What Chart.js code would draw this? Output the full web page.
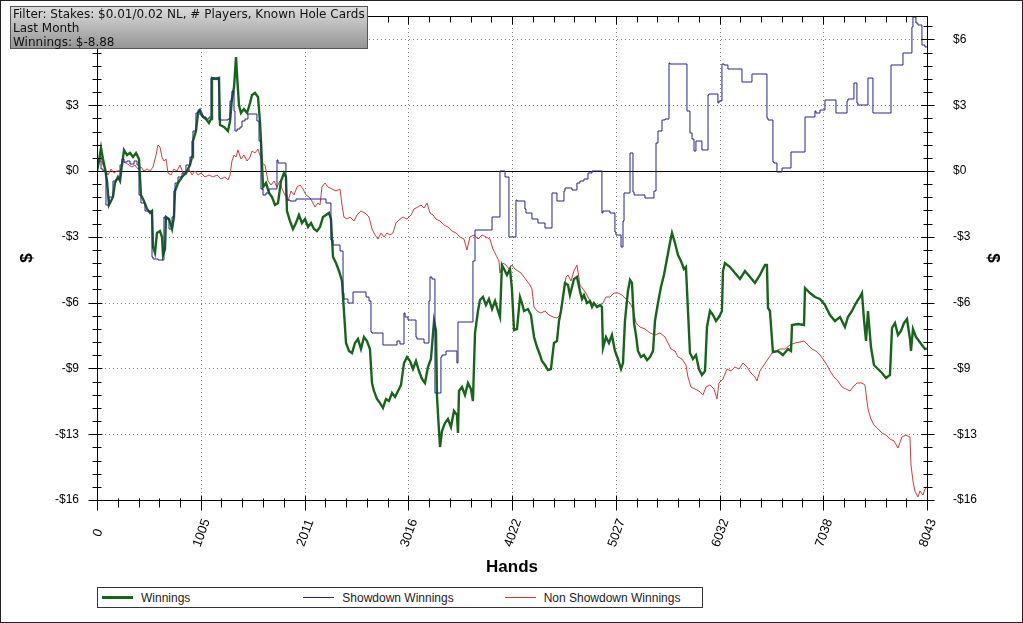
<!DOCTYPE html>
<html>
<head>
<meta charset="utf-8">
<script src="https://cdn.jsdelivr.net/npm/chart.js@4.4.1/dist/chart.umd.min.js"></script>
<style>
  html, body { margin: 0; padding: 0; background: #fff; }
  #wrap { position: relative; width: 1023px; height: 623px; overflow: hidden; }
  #wrap canvas { position: absolute; left: 0; top: 0; }
  #outline { position: absolute; left: 0; top: 0; width: 1023px; height: 623px; box-sizing: border-box; border: 1px solid #222; pointer-events: none; }
  #filter {
    position: absolute; left: 10px; top: 6px; width: 358px; height: 43px; box-sizing: border-box;
    border: 1px solid #555; background: linear-gradient(to bottom, #dcdcdc 0%, #b0b0b0 60%, #969696 100%);
    font: 12px "DejaVu Sans", Verdana, sans-serif; line-height: 14px; color: #111; padding: 0 0 0 2px; white-space: nowrap;
  }
  #legend {
    position: absolute; left: 97px; top: 587px; width: 606px; height: 21px; box-sizing: border-box;
    border: 1px solid #333; display: flex; align-items: center; background: #fff;
    font: 12px "Liberation Sans", Arial, sans-serif; color: #222;
  }
  #legend .item { width: 203px; display: flex; align-items: center; }
  #legend .sw { display: inline-block; width: 31px; margin: 0 8px 0 4px; }
</style>
</head>
<body>
<div id="wrap">
  <canvas id="chart" width="1023" height="623"></canvas>
  <div id="filter">Filter: Stakes: $0.01/0.02 NL, # Players, Known Hole Cards<br>Last Month<br>Winnings: $-8.88</div>
  <div id="legend"></div>
  <div id="outline"></div>
</div>
<script>
var seriesNames = ['Winnings', 'Showdown Winnings', 'Non Showdown Winnings'];

var xTickLabels = ['0', '1005', '2011', '3016', '4022', '5027', '6032', '7038', '8043'];
var yTickLabels = ['-$16', '-$13', '-$9', '-$6', '-$3', '$0', '$3', '$6'];
var handsMax = 8043;
var yMin = -16.45, yStep = 3.29, yMax = 7.75;

// Winnings (green)
var winHands = [
  0,19,39,58,78,97,116,136,155,174,
  203,223,242,262,291,320,349,378,407,426,
  455,485,514,533,543,562,581,610,630,640,
  659,669,698,727,746,756,785,824,862,901,
  921,930,959,979,998,1027,1056,1085,1105,1114,
  1153,1182,1192,1231,1269,1289,1308,1328,1347,1357,
  1376,1395,1424,1454,1483,1502,1531,1560,1579,1589,
  1609,1638,1667,1696,1725,1754,1783,1812,1831,1841,
  1870,1899,1928,1957,1986,2016,2045,2074,2103,2132,
  2161,2190,2219,2248,2267,2287,2316,2345,2374,2393,
  2413,2442,2471,2500,2529,2558,2587,2616,2645,2665,
  2684,2713,2742,2771,2800,2829,2859,2888,2917,2946,
  2975,3004,3033,3062,3091,3120,3149,3178,3207,3236,
  3266,3285,3295,3314,3324,3343,3372,3401,3430,3459,
  3488,3498,3508,3537,3566,3595,3624,3643,3663,3692,
  3711,3740,3769,3798,3828,3857,3886,3905,3924,3944,
  3973,4002,4021,4041,4070,4099,4118,4138,4176,4205,
  4235,4264,4293,4312,4341,4370,4399,4428,4457,4477,
  4496,4535,4564,4583,4603,4622,4651,4680,4700,4719,
  4748,4777,4797,4816,4845,4874,4893,4903,4932,4961,
  4990,5019,5048,5078,5097,5116,5145,5165,5184,5204,
  5223,5242,5271,5300,5330,5359,5388,5407,5436,5465,
  5494,5523,5552,5572,5601,5630,5659,5688,5707,5727,
  5746,5775,5804,5833,5862,5892,5911,5940,5969,5998,
  6027,6056,6066,6085,6134,6182,6231,6279,6328,6376,
  6424,6473,6492,6502,6521,6550,6599,6647,6696,6725,
  6735,6793,6851,6861,6909,6957,7006,7054,7103,7151,
  7200,7248,7277,7316,7355,7393,7413,7432,7452,7471,
  7500,7529,7568,7607,7646,7684,7704,7733,7762,7791,
  7820,7849,7878,7888,7907,7936,7965,7994,8023,8043
];
var winValues = [
  0,0.5,1.15,0.6,0.1,-0.5,-1.7,-1.5,-1.3,-0.6,
  -0.3,-0.5,0.3,1.05,0.8,0.9,0.7,0.9,0.6,-1.2,
  -1.5,-1.9,-2.1,-2.0,-3.8,-4.1,-3.1,-3.0,-3.3,-4.2,
  -3.9,-2.3,-2.4,-2.9,-2.3,-1.0,-0.6,-0.3,-0.1,0.3,
  0.7,1.5,2.0,2.9,3.05,2.7,2.6,2.4,2.6,4.65,
  4.6,4.65,2.3,2.2,2.0,2.5,3.6,4.2,5.7,4.8,
  3.3,2.9,3.1,2.9,3.4,3.8,3.9,3.7,2.5,1.5,
  -0.8,-0.6,-1.1,-1.3,-1.7,-1.6,-0.5,-0.1,-0.3,-2.0,
  -2.5,-2.9,-2.6,-2.2,-2.6,-2.4,-2.8,-2.6,-2.9,-3.0,
  -2.8,-2.3,-2.2,-2.1,-2.4,-4.3,-4.6,-5.0,-5.5,-7.0,
  -8.6,-9.0,-9.1,-8.6,-8.4,-8.9,-8.3,-8.5,-8.9,-10.6,
  -11.0,-11.4,-11.6,-11.85,-11.4,-11.5,-11.1,-11.3,-11.0,-10.7,
  -9.6,-9.3,-9.5,-9.9,-9.5,-10.0,-10.4,-10.6,-9.8,-9.4,
  -7.5,-8.0,-11.3,-13.0,-13.8,-13.0,-12.6,-12.4,-12.8,-12.0,
  -12.2,-13.1,-11.0,-10.8,-11.2,-10.6,-10.9,-11.5,-8.1,-7.0,
  -6.45,-6.3,-6.7,-6.4,-6.9,-6.5,-7.0,-7.3,-4.7,-4.9,
  -5.2,-4.9,-5.9,-7.95,-7.9,-6.3,-6.6,-7.0,-6.9,-7.2,
  -8.3,-8.8,-9.2,-9.5,-9.7,-9.95,-9.9,-8.6,-8.5,-7.5,
  -7.0,-5.6,-5.7,-6.2,-5.8,-5.4,-5.3,-6.0,-6.4,-6.2,
  -6.6,-6.5,-6.8,-6.6,-6.8,-6.7,-6.8,-8.85,-8.3,-8.6,
  -8.2,-9.0,-9.4,-9.9,-9.6,-7.5,-6.0,-5.45,-5.6,-7.6,
  -8.2,-9.0,-9.3,-9.2,-9.45,-9.3,-9.0,-7.5,-6.6,-5.8,
  -5.2,-4.4,-3.6,-3.1,-3.6,-4.2,-4.5,-4.9,-4.8,-7.0,
  -9.1,-9.4,-9.2,-9.9,-10.2,-10.0,-7.8,-7.0,-7.2,-7.5,
  -7.3,-7.0,-5.0,-4.6,-4.8,-5.1,-5.4,-5.0,-5.3,-5.6,
  -5.2,-4.7,-4.7,-6.85,-7.0,-9.05,-9.0,-9.2,-8.9,-9.0,
  -7.7,-7.65,-7.7,-5.85,-6.1,-6.3,-6.4,-6.7,-7.2,-7.5,
  -7.3,-7.8,-7.3,-7.0,-6.6,-6.3,-6.1,-7.4,-8.5,-7.0,
  -8.8,-9.7,-9.9,-10.1,-10.35,-10.2,-7.85,-7.6,-8.2,-8.0,
  -7.6,-7.4,-8.4,-9.0,-7.9,-8.3,-8.5,-8.7,-8.9,-8.88
];

// Showdown Winnings (blue)
var sdHands = [
  0,19,39,58,87,116,155,184,223,242,
  262,291,320,359,388,407,426,465,514,533,
  543,591,649,659,698,727,746,756,785,824,
  862,901,921,930,959,979,998,1027,1056,1085,
  1105,1114,1182,1192,1269,1289,1308,1328,1337,1357,
  1386,1405,1434,1463,1483,1550,1570,1589,1609,1638,
  1667,1696,1744,1754,1831,1841,1870,1928,2016,2141,
  2219,2267,2287,2355,2384,2393,2432,2481,2490,2607,
  2636,2655,2665,2771,2781,2907,2936,2975,2985,3014,
  3033,3091,3101,3169,3217,3227,3246,3275,3295,3333,
  3343,3382,3440,3488,3498,3508,3643,3663,3673,3828,
  3837,3905,3915,3954,3992,4002,4060,4070,4147,4157,
  4215,4273,4341,4409,4419,4457,4467,4525,4535,4603,
  4651,4680,4719,4758,4797,4835,4893,4903,4971,5019,
  5029,5078,5097,5107,5126,5165,5174,5194,5204,5310,
  5397,5417,5436,5475,5504,5543,5552,5717,5746,5766,
  5785,5804,5814,5862,5872,5921,5930,6017,6027,6056,
  6076,6114,6182,6250,6260,6347,6357,6492,6502,6550,
  6560,6589,6599,6638,6647,6725,6735,6861,6870,6957,
  6967,7006,7016,7054,7064,7161,7180,7268,7277,7335,
  7364,7374,7432,7471,7481,7519,7529,7694,7704,7810,
  7820,7897,7907,7936,7955,7994,8023,8043
];
var sdValues = [
  0,0.5,0.5,0.1,0.0,-1.7,-1.3,-0.5,-0.4,0.3,
  0.6,0.45,0.5,0.35,0.5,0.3,-1.2,-1.6,-2.0,-2.0,
  -4.3,-4.4,-4.45,-2.3,-2.4,-2.9,-2.3,-1.0,-0.6,-0.3,
  -0.1,0.3,0.7,1.5,2.0,2.9,3.05,2.8,2.7,2.6,
  2.7,4.65,4.65,2.55,2.55,2.6,3.5,4.0,3.0,2.0,
  2.1,2.2,2.5,2.6,2.85,2.85,2.5,1.5,-0.9,-1.2,
  -1.1,-0.9,-0.9,0.55,0.4,-1.2,-1.45,-1.5,-1.4,-1.4,
  -1.4,-1.6,-3.45,-3.7,-4.0,-6.1,-6.4,-6.6,-6.05,-6.05,
  -6.3,-6.5,-8.05,-8.1,-8.7,-8.7,-8.5,-8.65,-7.1,-7.3,
  -7.45,-7.45,-8.3,-8.4,-8.6,-6.5,-5.3,-5.4,-11.1,-11.1,
  -9.3,-9.2,-9.0,-9.0,-9.6,-7.55,-7.55,-4.5,-2.95,-2.95,
  -2.3,-2.3,0.0,0.0,-0.3,-3.3,-3.3,-1.45,-1.5,-1.9,
  -2.1,-2.4,-2.6,-2.85,-1.1,-1.1,-1.5,-1.5,-1.0,-0.85,
  -0.95,-0.6,-0.5,-0.4,-0.1,0.0,0.0,-2.1,-2.0,-2.1,
  -3.05,-3.2,-3.8,-2.5,-1.1,-1.1,0.9,0.9,-1.05,-1.2,
  -1.35,-1.0,1.4,2.0,2.55,2.6,5.4,5.35,3.0,1.9,
  1.6,1.0,1.5,1.5,1.05,1.05,3.8,3.85,3.4,3.5,
  5.35,5.3,5.1,5.1,4.45,4.45,4.85,4.85,2.65,2.55,
  0.45,0.4,-0.05,-0.05,0.15,0.15,0.95,0.95,2.7,2.7,
  3.0,2.9,3.05,3.05,3.55,3.55,2.9,2.9,3.5,3.6,
  4.4,3.4,3.3,3.3,4.65,4.65,2.9,2.9,5.3,5.3,
  5.9,5.9,7.2,7.7,7.4,7.3,6.3,6.2
];

// Non Showdown Winnings (red)
var nsdHands = [
  0,19,39,58,78,107,136,165,194,223,
  252,281,310,339,368,397,426,455,485,514,
  543,572,591,610,630,649,669,688,717,746,
  775,804,833,862,891,921,950,979,1008,1047,
  1085,1124,1163,1202,1240,1269,1289,1308,1328,1347,
  1366,1395,1424,1454,1483,1502,1531,1560,1579,1599,
  1628,1657,1686,1715,1744,1773,1793,1822,1851,1880,
  1909,1938,1967,1996,2025,2054,2083,2112,2141,2161,
  2180,2209,2238,2277,2316,2355,2374,2393,2423,2452,
  2490,2519,2558,2597,2636,2665,2694,2723,2752,2781,
  2810,2839,2868,2897,2926,2965,3004,3043,3072,3110,
  3140,3169,3198,3227,3256,3285,3324,3362,3401,3440,
  3479,3517,3556,3585,3614,3653,3692,3731,3769,3808,
  3837,3866,3895,3905,3934,3963,3992,4021,4050,4079,
  4109,4138,4167,4196,4215,4235,4264,4302,4341,4380,
  4419,4457,4486,4516,4545,4564,4593,4622,4651,4680,
  4709,4738,4767,4797,4835,4874,4903,4932,4971,5010,
  5048,5087,5126,5165,5194,5223,5262,5310,5359,5407,
  5455,5504,5533,5562,5601,5630,5669,5707,5727,5756,
  5795,5833,5872,5901,5940,5979,6008,6027,6066,6105,
  6143,6182,6221,6260,6299,6337,6376,6395,6424,6463,
  6502,6541,6580,6618,6667,6715,6764,6812,6851,6890,
  6928,6967,7006,7035,7074,7103,7142,7180,7219,7258,
  7297,7326,7364,7413,7442,7471,7500,7529,7568,7607,
  7646,7684,7723,7762,7800,7839,7878,7888,7907,7926,
  7955,7975,8004,8023,8043
];
var nsdValues = [
  0,0.4,0.7,0.3,0.1,-0.2,0.1,-0.1,0.0,0.0,
  0.45,0.4,0.3,0.2,0.3,0.1,0.2,0.0,0.1,0.0,
  0.2,0.8,1.3,1.2,0.7,0.5,0.6,-0.1,-0.2,0.1,
  0.0,0.3,-0.1,-0.2,0.1,-0.2,0.0,-0.2,-0.1,-0.3,
  -0.2,-0.3,-0.2,-0.4,-0.3,-0.45,-0.2,0.5,0.8,0.7,
  1.05,0.6,0.8,0.5,0.7,1.0,0.9,1.1,0.8,0.4,
  0.3,-0.5,-0.7,-0.5,-0.8,-0.5,-0.9,-1.2,-1.5,-1.0,
  -1.2,-0.8,-0.7,-0.9,-1.2,-1.3,-1.5,-1.8,-1.6,-1.7,
  -0.8,-0.6,-0.8,-0.9,-1.0,-0.9,-1.7,-2.3,-2.4,-2.3,
  -2.5,-2.2,-2.0,-2.1,-2.3,-2.9,-3.2,-3.4,-3.1,-3.3,
  -3.1,-3.2,-3.1,-2.6,-2.45,-2.3,-2.4,-2.2,-1.9,-1.8,
  -1.7,-1.85,-1.6,-2.1,-2.2,-2.4,-2.5,-2.7,-2.8,-3.0,
  -3.1,-3.3,-3.4,-3.95,-3.3,-3.2,-3.4,-3.2,-3.3,-3.4,
  -3.9,-4.2,-4.5,-5.1,-4.6,-4.7,-4.9,-4.7,-4.9,-5.0,
  -5.1,-5.3,-5.5,-5.7,-5.9,-6.8,-7.0,-7.1,-7.0,-7.2,
  -7.3,-7.35,-7.2,-6.3,-5.3,-5.2,-5.5,-5.0,-4.7,-5.7,
  -5.9,-6.1,-6.4,-6.6,-6.7,-6.8,-6.6,-6.3,-6.3,-6.1,
  -6.1,-6.2,-6.4,-6.6,-6.9,-7.6,-7.8,-7.9,-8.1,-8.2,
  -8.1,-8.3,-8.6,-8.9,-9.0,-9.3,-9.4,-9.7,-10.3,-10.8,
  -10.9,-11.0,-11.2,-10.8,-10.7,-10.9,-11.4,-10.6,-10.4,-9.9,
  -10.0,-9.8,-9.9,-9.6,-9.8,-10.1,-10.3,-10.5,-10.0,-9.7,
  -9.4,-9.1,-9.0,-8.9,-8.9,-8.7,-8.6,-8.55,-8.5,-8.7,
  -8.9,-9.0,-9.2,-9.4,-9.7,-10.0,-10.3,-10.5,-10.8,-10.9,
  -11.0,-10.8,-10.6,-10.6,-10.7,-11.9,-12.4,-12.7,-12.9,-13.1,
  -13.2,-13.4,-13.5,-13.85,-13.3,-13.2,-13.3,-14.7,-15.5,-16.0,
  -16.3,-16.0,-16.2,-15.9,-15.8
];

var green = '#17651a';
var blue = '#24248c';
var red = '#d23a3a';
var fontFamily = "'Liberation Sans', Arial, sans-serif";

function points(hands, values) {
    return hands.map(function (h, i) { return { x: h, y: values[i] }; });
}

var xMajors = xTickLabels.map(function (l, i) { return handsMax * i / (xTickLabels.length - 1); });
var yMajors = yTickLabels.map(function (l, i) { return yMin + i * yStep; });

// dotted grid, zero line, frame, tick marks crossing the axes, slanted hand labels
var plotFrame = {
    id: 'plotFrame',
    beforeDatasetsDraw: function (chart) {
        var ctx = chart.ctx, a = chart.chartArea, x = chart.scales.x, y = chart.scales.y;
        ctx.save();
        ctx.lineWidth = 1;
        ctx.strokeStyle = '#808080';
        ctx.setLineDash([1, 3]);
        ctx.beginPath();
        xMajors.forEach(function (v) {
            if (v <= 0 || v >= handsMax) return;
            var px = Math.round(x.getPixelForValue(v)) + 0.5;
            ctx.moveTo(px, a.top); ctx.lineTo(px, a.bottom);
        });
        yMajors.forEach(function (v, i) {
            if (i === 0 || Math.abs(v) < 1e-6) return;
            var py = Math.round(y.getPixelForValue(v)) + 0.5;
            ctx.moveTo(a.left, py); ctx.lineTo(a.right, py);
        });
        ctx.stroke();
        ctx.setLineDash([]);
        ctx.strokeStyle = '#000';
        var zy = Math.round(y.getPixelForValue(0)) + 0.5;
        ctx.beginPath(); ctx.moveTo(a.left, zy); ctx.lineTo(a.right, zy); ctx.stroke();
        ctx.restore();
    },
    afterDraw: function (chart) {
        var ctx = chart.ctx, a = chart.chartArea, x = chart.scales.x, y = chart.scales.y;
        var L = Math.round(a.left) + 0.5, R = Math.round(a.right) + 0.5;
        var T = Math.round(a.top) + 0.5, B = Math.round(a.bottom) + 0.5;
        ctx.save();
        ctx.strokeStyle = '#000';
        ctx.lineWidth = 1;
        ctx.beginPath();
        ctx.rect(L, T, R - L, B - T);
        var xs = (xMajors[1] - xMajors[0]) / 5;
        for (var k = 0; k <= (xMajors.length - 1) * 5; k++) {
            var major = k % 5 === 0;
            var px = Math.round(x.getPixelForValue(k * xs)) + 0.5;
            ctx.moveTo(px, B - (major ? 5 : 2)); ctx.lineTo(px, B + (major ? 10 : 7));
            ctx.moveTo(px, T); ctx.lineTo(px, T + (major ? 8 : 6));
        }
        var ys = yStep / 5;
        for (var j = 0; yMin + j * ys <= yMax; j++) {
            var maj = j % 5 === 0;
            var py = Math.round(y.getPixelForValue(yMin + j * ys)) + 0.5;
            ctx.moveTo(L - (maj ? 9 : 5), py); ctx.lineTo(L + (maj ? 5 : 4), py);
            ctx.moveTo(R - (maj ? 6 : 4), py); ctx.lineTo(R + (maj ? 7 : 5), py);
        }
        ctx.stroke();

        // hand labels, slanted and centred under their ticks
        ctx.fillStyle = '#000';
        ctx.font = '13px ' + fontFamily;
        ctx.textAlign = 'center';
        ctx.textBaseline = 'middle';
        xMajors.forEach(function (v, i) {
            ctx.save();
            ctx.translate(x.getPixelForValue(v) + 1, a.bottom + 33);
            ctx.rotate(-70 * Math.PI / 180);
            ctx.fillText(xTickLabels[i], 0, 0);
            ctx.restore();
        });
        ctx.restore();
    }
};

Chart.defaults.font.family = fontFamily;
Chart.defaults.color = '#000';

function noPadding(scale) {
    scale.paddingTop = 0; scale.paddingBottom = 0;
    scale.paddingLeft = 0; scale.paddingRight = 0;
}

var ctx = document.getElementById('chart').getContext('2d');
var chart = new Chart(ctx, {
    type: 'line',
    data: {
        datasets: [{
            label: seriesNames[1],
            data: points(sdHands, sdValues),
            borderColor: blue,
            borderWidth: 1,
            stepped: 'after',
            order: 1
        }, {
            label: seriesNames[0],
            data: points(winHands, winValues),
            borderColor: green,
            borderWidth: 2.4,
            order: 2
        }, {
            label: seriesNames[2],
            data: points(nsdHands, nsdValues),
            borderColor: red,
            borderWidth: 1,
            order: 3
        }]
    },
    options: {
        responsive: false,
        animation: false,
        events: [],
        layout: { padding: { left: 17, right: 20, top: 16, bottom: 45 } },
        elements: { point: { radius: 0 }, line: { tension: 0 } },
        plugins: { legend: { display: false }, tooltip: { enabled: false } },
        scales: {
            x: {
                type: 'linear',
                min: 0,
                max: handsMax,
                grid: { display: false },
                border: { display: false },
                afterBuildTicks: function (scale) { scale.ticks = xMajors.map(function (v) { return { value: v }; }); },
                afterFit: function (scale) { scale.height = 78; noPadding(scale); },
                ticks: { display: false },
                title: { display: true, text: 'Hands', font: { size: 17, weight: 'bold' }, padding: { top: 0, bottom: 0 } }
            },
            y: {
                type: 'linear',
                position: 'left',
                min: yMin,
                max: yMax,
                grid: { display: false },
                border: { display: false },
                afterBuildTicks: function (scale) { scale.ticks = yMajors.map(function (v) { return { value: v }; }); },
                afterFit: function (scale) { scale.width = 80; noPadding(scale); },
                ticks: { padding: 10, font: { size: 12 }, callback: function (v, i) { return yTickLabels[i]; } },
                title: { display: true, text: '$', font: { size: 17, weight: 'bold' }, padding: { top: 0, bottom: 0 } }
            },
            y2: {
                type: 'linear',
                position: 'right',
                min: yMin,
                max: yMax,
                grid: { display: false },
                border: { display: false },
                afterBuildTicks: function (scale) { scale.ticks = yMajors.map(function (v) { return { value: v }; }); },
                afterFit: function (scale) { scale.width = 76; noPadding(scale); },
                ticks: { padding: 18, font: { size: 12 }, callback: function (v, i) { return yTickLabels[i]; } },
                title: { display: true, text: '$', font: { size: 17, weight: 'bold' }, padding: { top: 0, bottom: 0 } }
            }
        }
    },
    plugins: [plotFrame]
});

// legend box under the chart
var legendColors = [green, blue, red];
var legendWidths = [3, 1, 1];
var legend = document.getElementById('legend');
seriesNames.forEach(function (name, i) {
    var item = document.createElement('div');
    item.className = 'item';
    var sw = document.createElement('span');
    sw.className = 'sw';
    sw.style.height = legendWidths[i] + 'px';
    sw.style.background = legendColors[i];
    item.appendChild(sw);
    item.appendChild(document.createTextNode(name));
    legend.appendChild(item);
});
</script>
</body>
</html>
